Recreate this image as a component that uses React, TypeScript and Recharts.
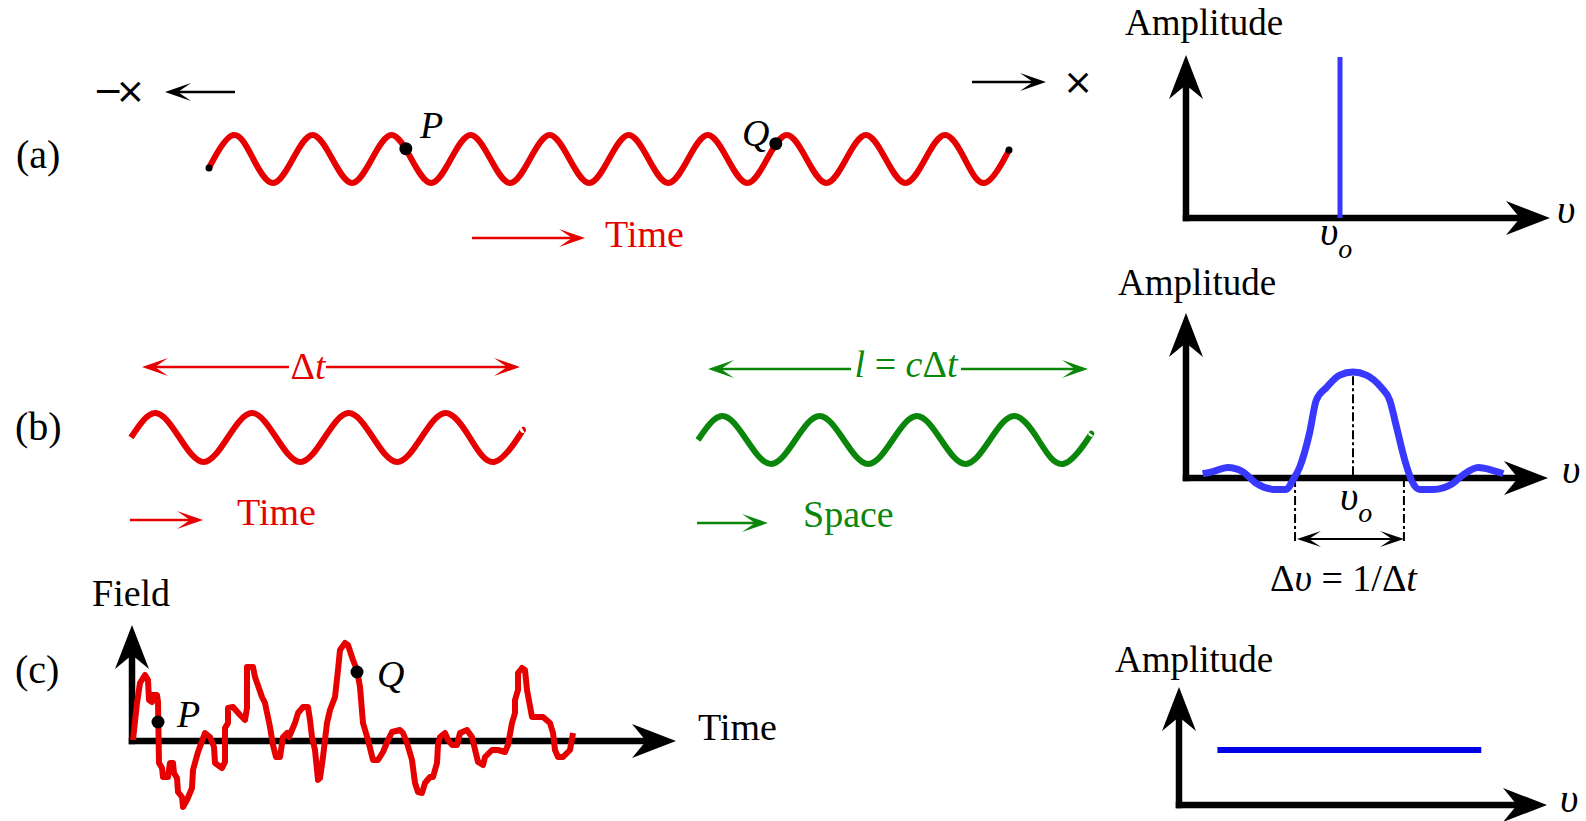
import React from "react";
import { LineChart, Line, XAxis, YAxis, ReferenceDot, ReferenceLine } from "recharts";

const RED = "#e60000";
const GREEN = "#0a870a";
const BLUE = "#3838ff";
const DEEP_BLUE = "#0000e8";
const SERIF = '"Liberation Serif", "Times New Roman", serif';
const SANS = '"DejaVu Sans", sans-serif';

// (a) long wave train: time in cycles, field read at quarter cycles
const WAVE_A_TIME = [-0.06, 0, 0.25, 0.5, 0.75, 1, 1.25, 1.5, 1.75, 2, 2.25, 2.5, 2.75, 3, 3.25, 3.5, 3.75, 4, 4.25, 4.5, 4.75, 5, 5.25, 5.5, 5.75, 6, 6.25, 6.5, 6.75, 7, 7.25, 7.5, 7.75, 8, 8.25, 8.5, 8.75, 9, 9.25, 9.5, 9.75, 10, 10.06];
const WAVE_A_FIELD = [-0.37, 0, 1, 0, -1, 0, 1, 0, -1, 0, 1, 0, -1, 0, 1, 0, -1, 0, 1, 0, -1, 0, 1, 0, -1, 0, 1, 0, -1, 0, 1, 0, -1, 0, 1, 0, -1, 0, 1, 0, -1, 0, 0.37];
const POINT_P_A = { t: 2.43, v: 0.43 };
const POINT_Q_A = { t: 7.11, v: 0.64 };

// (a) spectrum: single line at v0
const LINE_A_FREQ = [1, 1];
const LINE_A_AMP = [0, 1];

// (b) finite wave train, in time and in space
const WAVE_B_TIME = [0, 0.25, 0.5, 0.75, 1, 1.25, 1.5, 1.75, 2, 2.25, 2.5, 2.75, 3, 3.25, 3.5, 3.75, 4, 4.05];
const WAVE_B_FIELD = [0, 1, 0, -1, 0, 1, 0, -1, 0, 1, 0, -1, 0, 1, 0, -1, 0, 0.31];
const SPACE_B_POS = [0, 0.25, 0.5, 0.75, 1, 1.25, 1.5, 1.75, 2, 2.25, 2.5, 2.75, 3, 3.25, 3.5, 3.75, 4, 4.04];
const SPACE_B_FIELD = [0, 1, 0, -1, 0, 1, 0, -1, 0, 1, 0, -1, 0, 1, 0, -1, 0, 0.25];

// (b) spectrum: sinc-like band around v0
const SPEC_B_FREQ = [0.1, 0.16, 0.25, 0.34, 0.42, 0.54, 0.6, 0.64, 0.68, 0.74, 0.78, 0.84, 0.92, 1.0, 1.08, 1.17, 1.22, 1.26, 1.31, 1.35, 1.4, 1.48, 1.59, 1.66, 1.75, 1.82, 1.9];
const SPEC_B_AMP = [0.04, 0.06, 0.1, 0.06, -0.05, -0.11, -0.11, -0.02, 0.1, 0.43, 0.74, 0.86, 0.98, 1.01, 0.98, 0.86, 0.74, 0.49, 0.17, -0.02, -0.11, -0.11, -0.06, 0.03, 0.1, 0.08, 0.04];
const BAND_EDGES = [0.653, 1.305];

// (c) chaotic field
const FIELD_T = [0.1, 0.5, 0.8, 1.3, 1.6, 1.7, 2.0, 2.0, 2.5, 2.6, 2.7, 3.0, 3.1, 3.6, 3.8, 4.1, 4.2, 4.5, 4.6, 5.0, 5.1, 5.5, 6.0, 6.1, 6.6, 7.3, 7.8, 8.2, 8.3, 9.0, 9.3, 9.3, 9.6, 9.6, 10.1, 10.8, 11.3, 11.5, 11.5, 12.1, 12.3, 13.0, 13.3, 13.8, 14.1, 14.4, 14.8, 15.1, 15.5, 15.7, 16.3, 16.6, 17.1, 17.6, 17.8, 18.0, 18.3, 18.6, 18.8, 19.1, 19.5, 19.8, 20.3, 20.6, 20.8, 21.3, 21.6, 22.1, 22.5, 22.8, 23.1, 23.6, 24.1, 24.6, 25.1, 25.6, 26.0, 26.8, 27.1, 27.5, 28.0, 28.3, 28.6, 29.0, 29.3, 29.8, 30.1, 30.5, 30.6, 30.8, 31.3, 31.6, 32.0, 32.5, 32.8, 33.5, 34.0, 34.6, 35.1, 35.3, 36.0, 36.6, 37.3, 37.6, 38.0, 38.3, 38.3, 38.6, 38.6, 39.0, 39.3, 39.5, 40.0, 40.6, 41.1, 41.8, 42.1, 42.3, 42.6, 43.1, 43.8, 44.1];
const FIELD_V = [0.1, 3.8, 5.8, 6.6, 6.1, 4.1, 3.9, 4.6, 4.6, 3.9, -2.2, -2.7, -3.6, -3.6, -2.2, -2.2, -3.2, -3.7, -5.1, -5.6, -6.6, -5.9, -4.7, -2.9, -1.1, 0.8, 0.4, -0.6, -2.2, -2.7, -2.1, 1.3, 1.8, 3.3, 3.4, 2.6, 2.1, 3.3, 7.4, 7.4, 6.4, 4.4, 3.8, 1.4, -0.4, -1.6, -1.6, 0.4, 0.8, 0.4, 1.8, 2.8, 3.4, 3.4, 2.1, 0.4, -0.9, -3.9, -3.7, -1.6, 1.8, 3.1, 4.4, 7.1, 9.1, 9.8, 9.6, 8.1, 7.1, 5.4, 1.8, 0.1, -1.9, -1.9, -1.1, 0.1, 0.9, 1.1, 0.8, -0.2, -1.9, -4.2, -5.1, -5.2, -4.2, -3.6, -3.6, -2.2, -0.4, 0.4, 0.8, 0.1, -0.4, -0.4, 0.8, 1.1, 0.4, -2.1, -2.4, -1.6, -0.9, -0.9, -1.1, -0.4, 1.8, 2.8, 4.1, 5.1, 6.8, 7.3, 7.1, 5.1, 2.4, 2.4, 2.4, 1.8, 0.8, -0.9, -1.6, -1.6, -0.9, 0.8];
const POINT_P_C = { t: 2.6, v: 1.9 };
const POINT_Q_C = { t: 22.5, v: 6.9 };

// (c) spectrum: flat
const FLAT_FREQ = [0.23, 1.81];
const FLAT_AMP = [0.5, 0.5];

type Pt = { x: number; y: number };
const zip = (xs: number[], ys: number[]): Pt[] => xs.map((x, i) => ({ x, y: ys[i] }));

// box = [left, top, right, bottom] of the plot area on the page
function Plot({ box, xDomain, yDomain, children }: { box: number[]; xDomain: number[]; yDomain: number[]; children: React.ReactNode }) {
  const [x0, y0, x1, y1] = box;
  const pad = 14;
  return (
    <div style={{ position: "absolute", left: x0 - pad, top: y0 - pad }}>
      <LineChart
        width={x1 - x0 + 2 * pad}
        height={y1 - y0 + 2 * pad}
        margin={{ top: pad, right: pad, bottom: pad, left: pad }}
      >
        <XAxis dataKey="x" type="number" domain={xDomain} hide />
        <YAxis dataKey="y" type="number" domain={yDomain} hide />
        {children}
      </LineChart>
    </div>
  );
}

function Head({ x, y, angle, L, W, N, fill = "#000" }: { x: number; y: number; angle: number; L: number; W: number; N: number; fill?: string }) {
  return (
    <path
      d={`M0,0 L${-L},${-W} L${-N},0 L${-L},${W} Z`}
      transform={`translate(${x},${y}) rotate(${angle})`}
      fill={fill}
    />
  );
}

function Arrow({ x1, x2, y, color = "#000", both = false, w = 2.5, L = 26, W = 9, N = 13 }: { x1: number; x2: number; y: number; color?: string; both?: boolean; w?: number; L?: number; W?: number; N?: number }) {
  const dir = x2 > x1 ? 1 : -1;
  return (
    <g>
      <line x1={both ? x1 + dir * N : x1} y1={y} x2={x2 - dir * N} y2={y} stroke={color} strokeWidth={w} />
      <Head x={x2} y={y} angle={dir > 0 ? 0 : 180} L={L} W={W} N={N} fill={color} />
      {both && <Head x={x1} y={y} angle={dir > 0 ? 180 : 0} L={L} W={W} N={N} fill={color} />}
    </g>
  );
}

function Axes({ ox, oy, top, right }: { ox: number; oy: number; top: number; right: number }) {
  const sw = 6.5;
  return (
    <g>
      <line x1={ox} y1={oy + sw / 2} x2={ox} y2={top + 28} stroke="#000" strokeWidth={sw} />
      <Head x={ox} y={top} angle={-90} L={44} W={17} N={30} />
      <line x1={ox - sw / 2} y1={oy} x2={right - 28} y2={oy} stroke="#000" strokeWidth={sw} />
      <Head x={right} y={oy} angle={0} L={44} W={17} N={30} />
    </g>
  );
}

const it = { fontStyle: "italic" as const };

export default function App() {
  return (
    <div style={{ position: "absolute", left: 0, top: 0, width: 1586, height: 821, background: "#fff", overflow: "hidden" }}>
      {/* axes sit under the curves */}
      <svg width={1586} height={821} style={{ position: "absolute", left: 0, top: 0 }}>
        <Axes ox={1186} oy={218} top={55} right={1550} />
        <Axes ox={1186} oy={478} top={313} right={1548} />
        <Axes ox={1179} oy={805} top={687} right={1547} />
        <Axes ox={132} oy={741} top={625} right={676} />
      </svg>

      {/* (a) wave */}
      <Plot box={[209, 135, 1009, 183]} xDomain={[-0.06, 10.06]} yDomain={[-1, 1]}>
        <Line data={zip(WAVE_A_TIME, WAVE_A_FIELD)} dataKey="y" type="natural" stroke={RED} strokeWidth={6} dot={false} isAnimationActive={false} />
        <ReferenceDot x={WAVE_A_TIME[0]} y={WAVE_A_FIELD[0]} r={3.5} fill="#000" stroke="none" />
        <ReferenceDot x={WAVE_A_TIME[WAVE_A_TIME.length - 1]} y={WAVE_A_FIELD[WAVE_A_FIELD.length - 1]} r={3.5} fill="#000" stroke="none" />
        <ReferenceDot x={POINT_P_A.t} y={POINT_P_A.v} r={6.5} fill="#000" stroke="none" />
        <ReferenceDot x={POINT_Q_A.t} y={POINT_Q_A.v} r={6.5} fill="#000" stroke="none" />
      </Plot>

      {/* (a) spectrum */}
      <Plot box={[1186, 57, 1494, 218]} xDomain={[0, 2]} yDomain={[0, 1]}>
        <Line data={zip(LINE_A_FREQ, LINE_A_AMP)} dataKey="y" type="linear" stroke={BLUE} strokeWidth={5} dot={false} isAnimationActive={false} />
      </Plot>

      {/* (b) waves */}
      <Plot box={[131, 413, 523, 462]} xDomain={[0, 4.05]} yDomain={[-1, 1]}>
        <Line data={zip(WAVE_B_TIME, WAVE_B_FIELD)} dataKey="y" type="natural" stroke={RED} strokeWidth={6} dot={false} isAnimationActive={false} />
      </Plot>
      <Plot box={[698, 416, 1091, 464]} xDomain={[0, 4.04]} yDomain={[-1, 1]}>
        <Line data={zip(SPACE_B_POS, SPACE_B_FIELD)} dataKey="y" type="natural" stroke={GREEN} strokeWidth={6} dot={false} isAnimationActive={false} />
      </Plot>

      {/* (b) spectrum */}
      <Plot box={[1186, 352, 1520, 551.5]} xDomain={[0, 2]} yDomain={[-0.7, 1.2]}>
        <ReferenceLine segment={[{ x: 1, y: 0.97 }, { x: 1, y: 0 }]} stroke="#000" strokeWidth={2} strokeDasharray="9 3 3 3" />
        <ReferenceLine segment={[{ x: BAND_EDGES[0], y: 0 }, { x: BAND_EDGES[0], y: -0.6 }]} stroke="#000" strokeWidth={2} strokeDasharray="9 3 3 3" />
        <ReferenceLine segment={[{ x: BAND_EDGES[1], y: 0 }, { x: BAND_EDGES[1], y: -0.6 }]} stroke="#000" strokeWidth={2} strokeDasharray="9 3 3 3" />
        <Line data={zip(SPEC_B_FREQ, SPEC_B_AMP)} dataKey="y" type="monotone" stroke={BLUE} strokeWidth={7} strokeLinejoin="round" dot={false} isAnimationActive={false} />
      </Plot>

      {/* (c) field */}
      <Plot box={[132, 631, 682, 811]} xDomain={[0, 55]} yDomain={[-7, 11]}>
        <Line data={zip(FIELD_T, FIELD_V)} dataKey="y" type="linear" stroke={RED} strokeWidth={6} strokeLinejoin="round" dot={false} isAnimationActive={false} />
        <ReferenceDot x={POINT_P_C.t} y={POINT_P_C.v} r={6.5} fill="#000" stroke="none" />
        <ReferenceDot x={POINT_Q_C.t} y={POINT_Q_C.v} r={6.5} fill="#000" stroke="none" />
      </Plot>

      {/* (c) spectrum */}
      <Plot box={[1179, 695, 1513, 805]} xDomain={[0, 2]} yDomain={[0, 1]}>
        <Line data={zip(FLAT_FREQ, FLAT_AMP)} dataKey="y" type="linear" stroke={DEEP_BLUE} strokeWidth={6} dot={false} isAnimationActive={false} />
      </Plot>

      {/* labels and thin arrows */}
      <svg width={1586} height={821} style={{ position: "absolute", left: 0, top: 0, pointerEvents: "none" }} fontFamily={SERIF} fontSize={38}>
        <text x={16} y={168} fontSize={40}>(a)</text>
        <text x={15} y={440} fontSize={40}>(b)</text>
        <text x={15} y={683} fontSize={40}>(c)</text>

        <text x={93} y={103} fontFamily={SANS} fontSize={36} letterSpacing={-8}>−×</text>
        <Arrow x1={235} x2={165} y={92} />
        <Arrow x1={972} x2={1046} y={82} />
        <text x={1078} y={94} fontFamily={SANS} fontSize={36} textAnchor="middle">×</text>

        <text x={420} y={138} style={it}>P</text>
        <text x={742} y={146} style={it}>Q</text>
        <Arrow x1={472} x2={585} y={238} color={RED} />
        <text x={605} y={247} fill={RED}>Time</text>

        <text x={1125} y={35} fontSize={37}>Amplitude</text>
        <text x={1557} y={223} fontSize={40} style={it}>υ</text>
        <text x={1320} y={245} fontSize={40} style={it}>υ<tspan fontSize={28} dy={13}>o</tspan></text>

        <Arrow x1={289} x2={142} y={367} color={RED} />
        <Arrow x1={326} x2={520} y={367} color={RED} />
        <text x={308} y={379} fill={RED} textAnchor="middle">Δ<tspan style={it}>t</tspan></text>
        <Arrow x1={851} x2={708} y={369} color={GREEN} />
        <Arrow x1={961} x2={1088} y={369} color={GREEN} />
        <text x={906} y={377} fill={GREEN} textAnchor="middle"><tspan style={it}>l</tspan> = <tspan style={it}>c</tspan>Δ<tspan style={it}>t</tspan></text>

        <Arrow x1={130} x2={203} y={520} color={RED} />
        <text x={237} y={525} fill={RED}>Time</text>
        <Arrow x1={697} x2={768} y={523} color={GREEN} />
        <text x={803} y={527} fill={GREEN}>Space</text>

        <text x={1118} y={295} fontSize={37}>Amplitude</text>
        <text x={1562} y={483} fontSize={40} style={it}>υ</text>
        <text x={1340} y={510} fontSize={40} style={it}>υ<tspan fontSize={28} dy={12}>o</tspan></text>
        <Arrow x1={1297} x2={1404} y={539} both w={2} L={24} W={8} N={12} />
        <text x={1270} y={591}>Δ<tspan style={it}>υ</tspan> = 1/Δ<tspan style={it}>t</tspan></text>

        <text x={92} y={606}>Field</text>
        <text x={177} y={727} style={it}>P</text>
        <text x={377} y={687} style={it}>Q</text>
        <text x={698} y={740}>Time</text>

        <text x={1115} y={672} fontSize={37}>Amplitude</text>
        <text x={1560} y={812} fontSize={40} style={it}>υ</text>
      </svg>
    </div>
  );
}
